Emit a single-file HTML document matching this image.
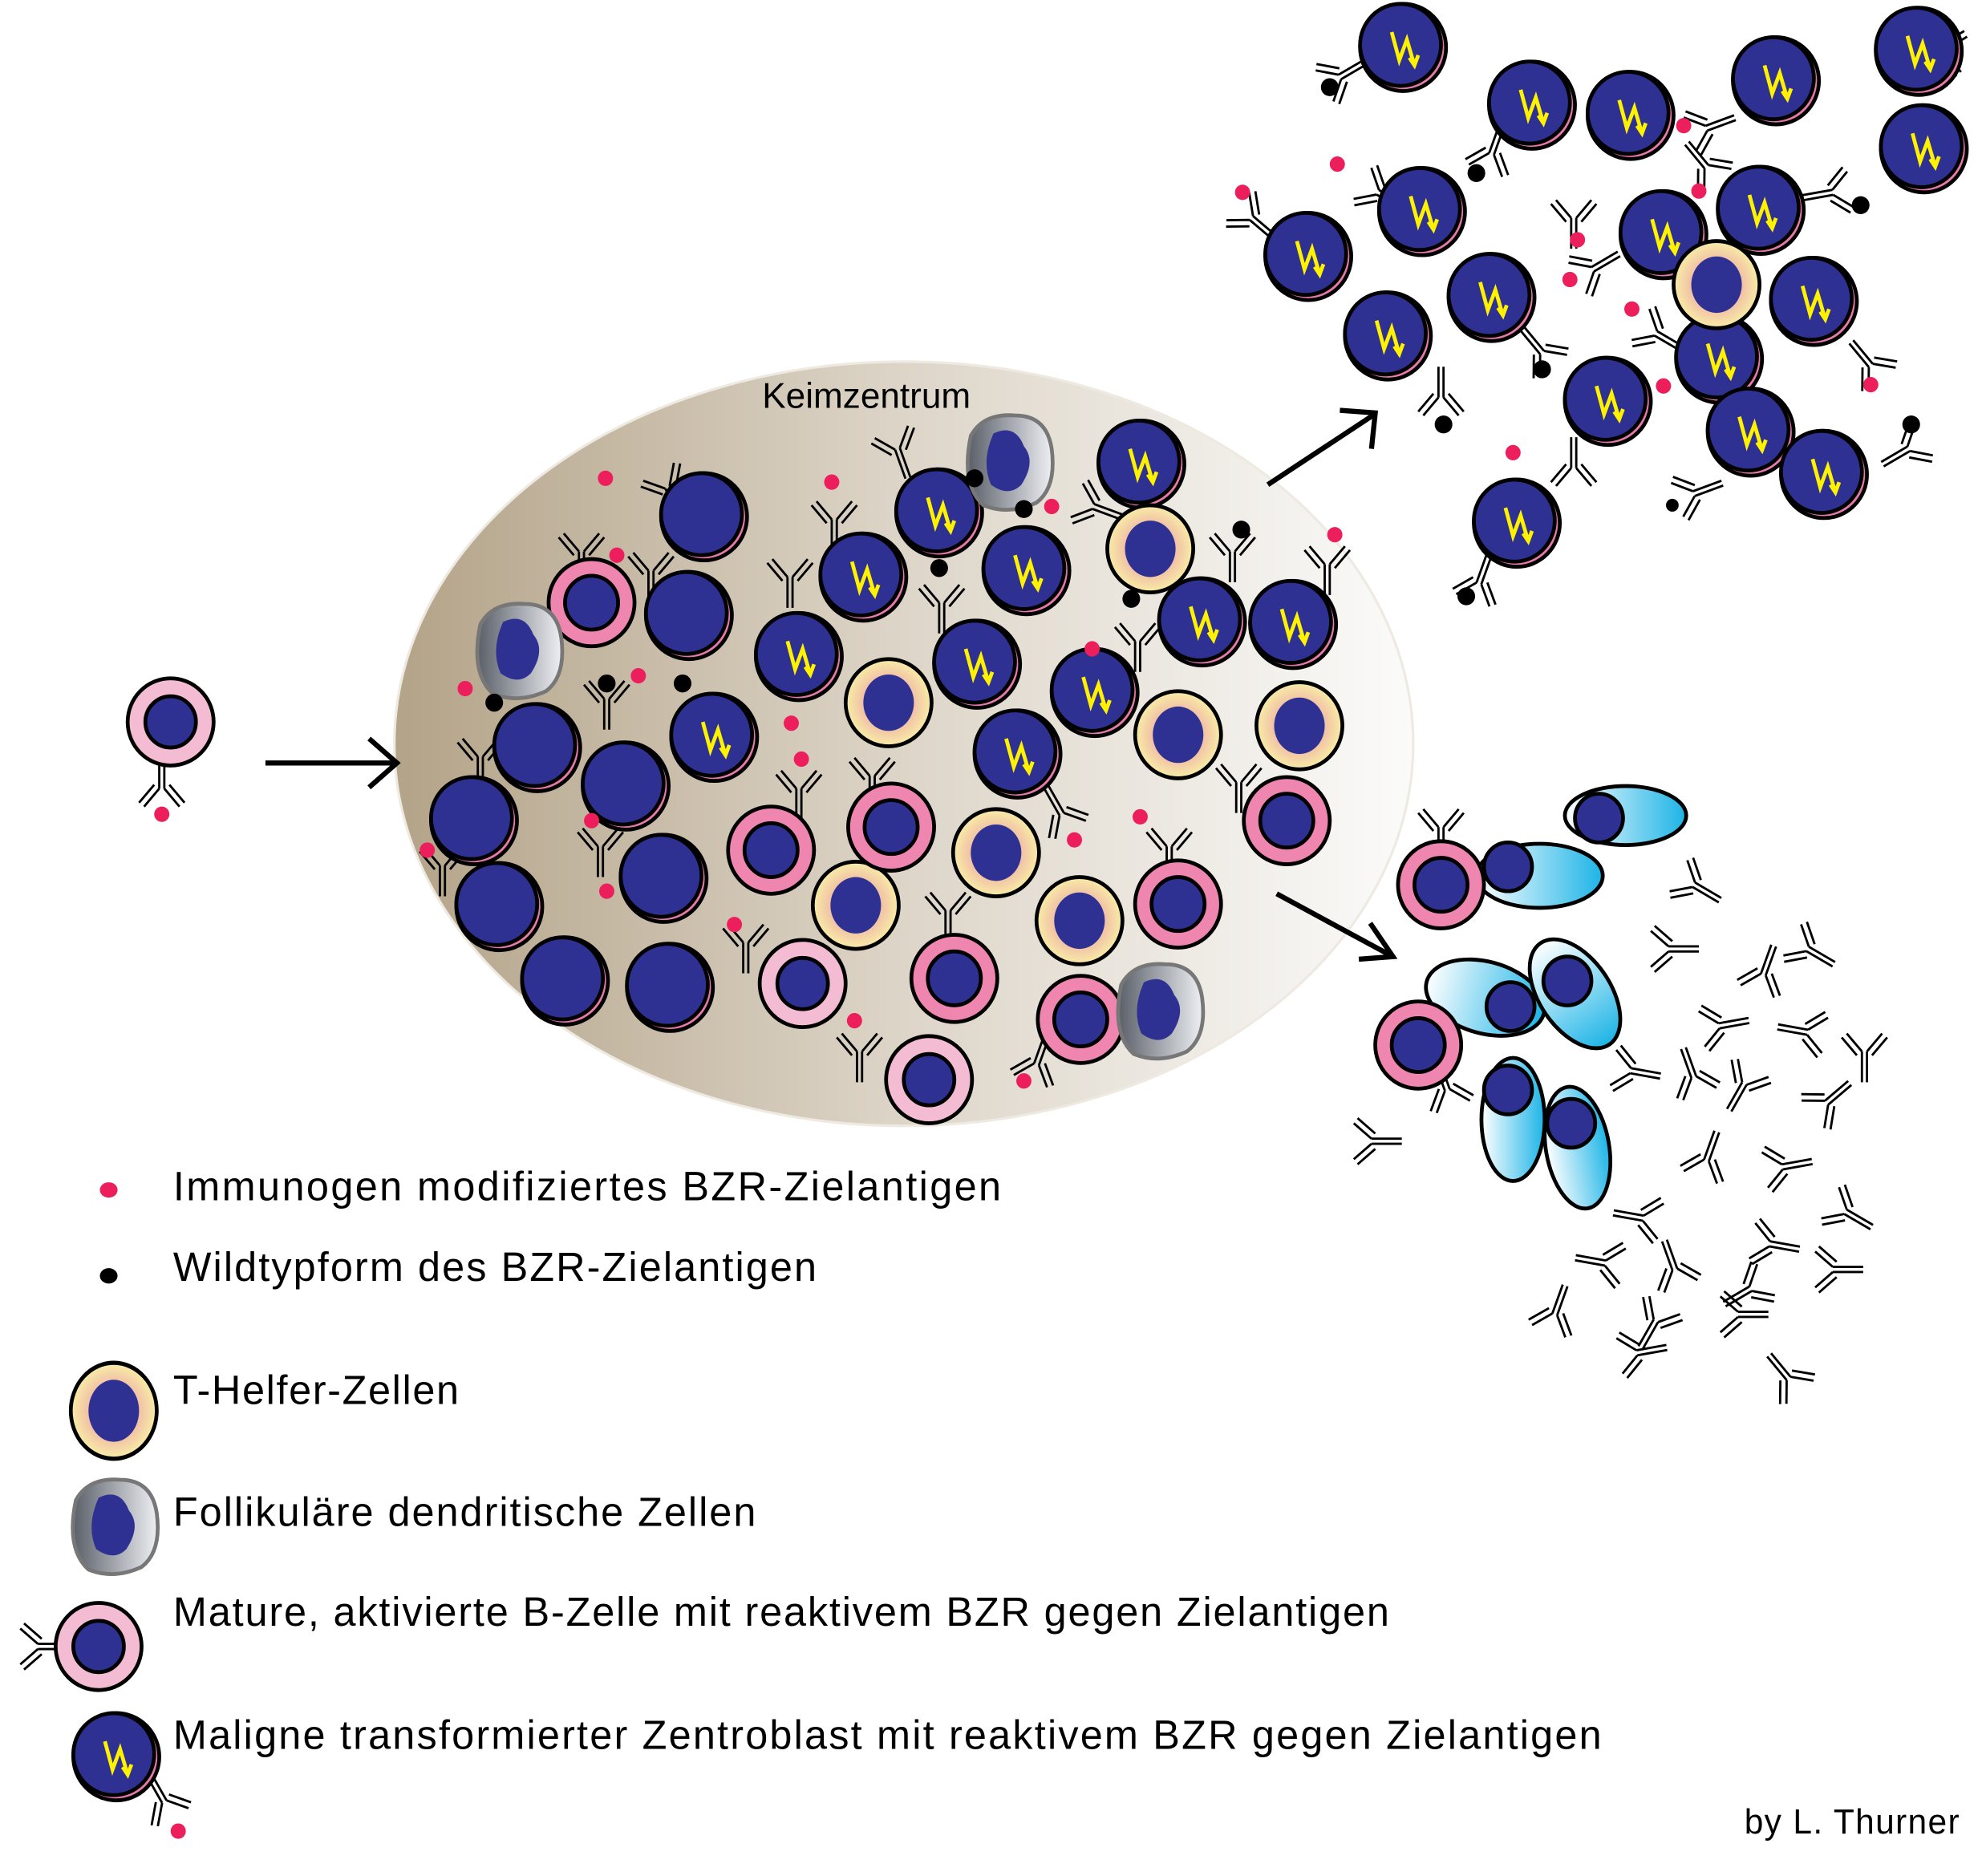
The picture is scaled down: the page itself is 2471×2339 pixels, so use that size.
<!DOCTYPE html>
<html><head><meta charset="utf-8"><style>html,body{margin:0;padding:0;background:#fff}svg{display:block}</style></head>
<body>
<svg width="2471" height="2339" viewBox="0 0 1568 1463" preserveAspectRatio="none" xmlns="http://www.w3.org/2000/svg" font-family="Liberation Sans, sans-serif">
<defs>
<linearGradient id="gc" x1="0" x2="1" y1="0" y2="0"><stop offset="0" stop-color="#b3a388"/><stop offset="0.5" stop-color="#ddd5c8"/><stop offset="1" stop-color="#fbfbfa"/></linearGradient>
<radialGradient id="th"><stop offset="0.5" stop-color="#f0b7a6"/><stop offset="1" stop-color="#f8eda6"/></radialGradient>
<linearGradient id="fdc" x1="0" x2="1"><stop offset="0" stop-color="#5a5f68"/><stop offset="1" stop-color="#eef0f4"/></linearGradient>
<linearGradient id="pl" x1="0" x2="1"><stop offset="0" stop-color="#ffffff"/><stop offset="1" stop-color="#1cb4e6"/></linearGradient>
<symbol id="cb" viewBox="-40 -40 80 80" overflow="visible">
<circle r="34" fill="#e77aa8" stroke="#000" stroke-width="3"/>
<circle cx="-2" cy="-2" r="32" fill="#2e3192" stroke="#000" stroke-width="3"/>
<path d="M-9 -12 L-3 10 L3 -6 L9 14 M5 8 L9 14 L12 6" fill="none" stroke="#fff200" stroke-width="3"/>
</symbol>
<symbol id="cd" viewBox="-40 -40 80 80" overflow="visible">
<circle r="34" fill="#e77aa8" stroke="#000" stroke-width="3"/>
<circle cx="-2" cy="-2" r="32" fill="#2e3192" stroke="#000" stroke-width="3"/>
</symbol>
<symbol id="th1" viewBox="-40 -40 80 80" overflow="visible">
<circle r="34" fill="url(#th)" stroke="#000" stroke-width="3"/>
<ellipse rx="20" ry="22" fill="#2e3192"/>
</symbol>
<symbol id="mb" viewBox="-40 -40 80 80" overflow="visible">
<circle r="34" fill="#ee86b0" stroke="#000" stroke-width="3"/>
<circle r="21" fill="#2e3192" stroke="#000" stroke-width="3"/>
</symbol>
<symbol id="mbl" viewBox="-40 -40 80 80" overflow="visible">
<circle r="34" fill="#f4bcd2" stroke="#000" stroke-width="3"/>
<circle r="20" fill="#2e3192" stroke="#000" stroke-width="3"/>
</symbol>
<symbol id="fd" viewBox="-40 -40 80 80" overflow="visible">
<path d="M-30 -20 Q-20 -38 5 -36 Q30 -36 34 -10 Q38 20 22 32 Q0 42 -20 34 Q-38 18 -30 -20Z" fill="url(#fdc)" stroke="#777" stroke-width="3"/>
<path d="M-12 -22 Q5 -30 12 -12 Q22 0 10 18 Q0 28 -14 18 Q-22 0 -12 -22Z" fill="#2e3192"/>
</symbol>
<symbol id="ab" viewBox="-20 -20 40 40" overflow="visible">
<path d="M-2 24 V0 M2 24 V0 M-2 0 L-14 -14 M2 0 L14 -14 M-6 3 L-18 -11 M6 3 L18 -11" fill="none" stroke="#000" stroke-width="1.8"/>
</symbol>
</defs>
<rect width="1568" height="1463" fill="#fff"/>
<ellipse cx="715" cy="580" rx="403" ry="298" fill="url(#gc)" stroke="#eeeae2" stroke-width="2"/>
<text x="603" y="318" font-size="28">Keimzentrum</text>

<g stroke="#000" stroke-width="4" fill="none">
<path d="M210 595 H312 M292 576 L314 595 L292 614"/>
<path d="M1003 378 L1086 324 M1060 320 L1088 322 L1085 350"/>
<path d="M1010 697 L1100 745 M1084 720 L1102 746 L1075 748"/>
</g>

<g>
<use href="#ab" x="508" y="360" width="40" height="40" transform="rotate(-30 528 380)"/>
<use href="#ab" x="440" y="410" width="40" height="40"/>
<use href="#ab" x="495" y="425" width="40" height="40"/>
<use href="#ab" x="690" y="330" width="40" height="40" transform="rotate(-20 710 350)"/>
<use href="#ab" x="640" y="385" width="40" height="40"/>
<use href="#ab" x="605" y="430" width="40" height="40"/>
<use href="#ab" x="725" y="450" width="40" height="40"/>
<use href="#ab" x="360" y="570" width="40" height="40"/>
<use href="#ab" x="460" y="525" width="40" height="40"/>
<use href="#ab" x="455" y="640" width="40" height="40"/>
<use href="#ab" x="330" y="655" width="40" height="40"/>
<use href="#ab" x="570" y="715" width="40" height="40"/>
<use href="#ab" x="670" y="585" width="40" height="40"/>
<use href="#ab" x="730" y="690" width="40" height="40"/>
<use href="#ab" x="820" y="615" width="40" height="40" transform="rotate(150 840 635)"/>
<use href="#ab" x="960" y="590" width="40" height="40"/>
<use href="#ab" x="905" y="640" width="40" height="40"/>
<use href="#ab" x="800" y="810" width="40" height="40" transform="rotate(200 820 830)"/>
<use href="#ab" x="845" y="375" width="40" height="40" transform="rotate(-70 865 395)"/>
<use href="#ab" x="955" y="410" width="40" height="40"/>
<use href="#ab" x="1030" y="420" width="40" height="40"/>
<use href="#ab" x="880" y="480" width="40" height="40"/>
<use href="#ab" x="660" y="800" width="40" height="40"/>
<use href="#ab" x="612" y="595" width="40" height="40"/>
</g>

<g>
<use href="#cd" x="517" y="363" width="80" height="80"/>
<use href="#mb" x="428" y="430" width="80" height="80"/>
<use href="#cd" x="505" y="440" width="80" height="80"/>
<use href="#cd" x="385" y="543" width="80" height="80"/>
<use href="#cd" x="455" y="573" width="80" height="80"/>
<use href="#cd" x="335" y="600" width="80" height="80"/>
<use href="#cd" x="355" y="667" width="80" height="80"/>
<use href="#cd" x="485" y="645" width="80" height="80"/>
<use href="#cd" x="407" y="725" width="80" height="80"/>
<use href="#cd" x="490" y="730" width="80" height="80"/>
<use href="#cb" x="703" y="360" width="80" height="80"/>
<use href="#cb" x="863" y="322" width="80" height="80"/>
<use href="#cb" x="643" y="410" width="80" height="80"/>
<use href="#cb" x="772" y="405" width="80" height="80"/>
<use href="#cb" x="592" y="472" width="80" height="80"/>
<use href="#cb" x="733" y="478" width="80" height="80"/>
<use href="#cb" x="911" y="445" width="80" height="80"/>
<use href="#cb" x="983" y="447" width="80" height="80"/>
<use href="#cb" x="525" y="535" width="80" height="80"/>
<use href="#cb" x="826" y="500" width="80" height="80"/>
<use href="#cb" x="765" y="548" width="80" height="80"/>
<use href="#th1" x="870" y="388" width="80" height="80"/>
<use href="#th1" x="663" y="508" width="80" height="80"/>
<use href="#th1" x="892" y="533" width="80" height="80"/>
<use href="#th1" x="988" y="526" width="80" height="80"/>
<use href="#th1" x="748" y="625" width="80" height="80"/>
<use href="#th1" x="637" y="666" width="80" height="80"/>
<use href="#th1" x="814" y="678" width="80" height="80"/>
<use href="#mb" x="570" y="623" width="80" height="80"/>
<use href="#mb" x="978" y="600" width="80" height="80"/>
<use href="#mb" x="665" y="605" width="80" height="80"/>
<use href="#mbl" x="595" y="727" width="80" height="80"/>
<use href="#mb" x="715" y="723" width="80" height="80"/>
<use href="#mb" x="892" y="665" width="80" height="80"/>
<use href="#mbl" x="695" y="802" width="80" height="80"/>
<use href="#mb" x="815" y="755" width="80" height="80"/>
<use href="#fd" x="370" y="467" width="80" height="80"/>
<use href="#fd" x="758" y="320" width="80" height="80"/>
<use href="#fd" x="877" y="748" width="80" height="80"/>
</g>
<g fill="#ec1e5c">
<circle cx="479" cy="373" r="6"/><circle cx="658" cy="376" r="6"/><circle cx="488" cy="433" r="6"/><circle cx="832" cy="395" r="6"/><circle cx="1056" cy="417" r="6"/><circle cx="368" cy="537" r="6"/><circle cx="505" cy="527" r="6"/><circle cx="626" cy="564" r="6"/><circle cx="864" cy="506" r="6"/><circle cx="634" cy="592" r="6"/><circle cx="468" cy="640" r="6"/><circle cx="338" cy="663" r="6"/><circle cx="480" cy="695" r="6"/><circle cx="581" cy="721" r="6"/><circle cx="850" cy="655" r="6"/><circle cx="902" cy="637" r="6"/><circle cx="676" cy="796" r="6"/><circle cx="810" cy="843" r="6"/>
</g>
<g fill="#000">
<circle cx="391" cy="548" r="7"/><circle cx="480" cy="533" r="7"/><circle cx="540" cy="533" r="7"/><circle cx="771" cy="373" r="7"/><circle cx="810" cy="397" r="7"/><circle cx="743" cy="443" r="7"/><circle cx="982" cy="413" r="7"/><circle cx="895" cy="467" r="7"/>
</g>

<use href="#ab" x="108" y="595" width="40" height="40" transform="rotate(180 128 615)"/>
<use href="#mbl" x="95" y="523" width="80" height="80"/>
<circle cx="128" cy="635" r="6" fill="#ec1e5c"/>

<g>
<use href="#ab" x="1040" y="40" width="40" height="40" transform="rotate(-120 1060 60)"/>
<use href="#ab" x="1160" y="100" width="40" height="40" transform="rotate(200 1180 120)"/>
<use href="#ab" x="1330" y="80" width="40" height="40" transform="rotate(-110 1350 100)"/>
<use href="#ab" x="1520" y="20" width="40" height="40" transform="rotate(100 1540 40)"/>
<use href="#ab" x="1070" y="130" width="40" height="40" transform="rotate(-60 1090 150)"/>
<use href="#ab" x="970" y="150" width="40" height="40" transform="rotate(-50 990 170)"/>
<use href="#ab" x="1225" y="150" width="40" height="40"/>
<use href="#ab" x="1430" y="130" width="40" height="40" transform="rotate(80 1450 150)"/>
<use href="#ab" x="1200" y="255" width="40" height="40" transform="rotate(140 1220 275)"/>
<use href="#ab" x="1120" y="290" width="40" height="40" transform="rotate(180 1140 310)"/>
<use href="#ab" x="1460" y="265" width="40" height="40" transform="rotate(140 1480 285)"/>
<use href="#ab" x="1290" y="240" width="40" height="40" transform="rotate(-60 1310 260)"/>
<use href="#ab" x="1225" y="345" width="40" height="40" transform="rotate(180 1245 365)"/>
<use href="#ab" x="1490" y="330" width="40" height="40" transform="rotate(60 1510 350)"/>
<use href="#ab" x="1320" y="365" width="40" height="40" transform="rotate(-110 1340 385)"/>
<use href="#ab" x="1150" y="435" width="40" height="40" transform="rotate(200 1170 455)"/>
<use href="#ab" x="1240" y="190" width="40" height="40" transform="rotate(-120 1260 210)"/>
<use href="#ab" x="1330" y="110" width="40" height="40" transform="rotate(140 1350 130)"/>
</g>
<g>
<use href="#cb" x="1070" y="-3" width="80" height="80"/>
<use href="#cb" x="1172" y="42" width="80" height="80"/>
<use href="#cb" x="1250" y="50" width="80" height="80"/>
<use href="#cb" x="1365" y="23" width="80" height="80"/>
<use href="#cb" x="1478" y="0" width="80" height="80"/>
<use href="#cb" x="1482" y="76" width="80" height="80"/>
<use href="#cb" x="1085" y="125" width="80" height="80"/>
<use href="#cb" x="995" y="160" width="80" height="80"/>
<use href="#cb" x="1140" y="192" width="80" height="80"/>
<use href="#cb" x="1058" y="222" width="80" height="80"/>
<use href="#cb" x="1276" y="143" width="80" height="80"/>
<use href="#cb" x="1353" y="124" width="80" height="80"/>
<use href="#cb" x="1395" y="195" width="80" height="80"/>
<use href="#cb" x="1320" y="240" width="80" height="80"/>
<use href="#cb" x="1232" y="273" width="80" height="80"/>
<use href="#cb" x="1345" y="297" width="80" height="80"/>
<use href="#cb" x="1403" y="330" width="80" height="80"/>
<use href="#cb" x="1160" y="368" width="80" height="80"/>
<use href="#th1" x="1318" y="182" width="80" height="80"/>
</g>
<g fill="#ec1e5c">
<circle cx="1058" cy="128" r="6"/><circle cx="983" cy="150" r="6"/><circle cx="1332" cy="98" r="6"/><circle cx="1344" cy="149" r="6"/><circle cx="1248" cy="187" r="6"/><circle cx="1242" cy="218" r="6"/><circle cx="1291" cy="241" r="6"/><circle cx="1316" cy="301" r="6"/><circle cx="1480" cy="300" r="6"/><circle cx="1197" cy="353" r="6"/>
</g>
<g fill="#000">
<circle cx="1052" cy="68" r="7"/><circle cx="1168" cy="135" r="7"/><circle cx="1472" cy="160" r="7"/><circle cx="1220" cy="288" r="7"/><circle cx="1142" cy="331" r="7"/><circle cx="1512" cy="331" r="7"/><circle cx="1323" cy="394" r="5"/><circle cx="1160" cy="465" r="7"/>
</g>

<g>
<use href="#ab" x="1120" y="625" width="40" height="40"/>
<use href="#ab" x="1125" y="830" width="40" height="40" transform="rotate(160 1145 850)"/>
</g>
<g stroke="#000" stroke-width="3">
<ellipse cx="1218" cy="683" rx="50" ry="25" fill="url(#pl)"/>
<ellipse cx="1286" cy="636" rx="48" ry="23" fill="url(#pl)"/>
<ellipse cx="1175" cy="778" rx="48" ry="28" fill="url(#pl)" transform="rotate(15 1175 778)"/>
<ellipse cx="1246" cy="775" rx="48" ry="28" fill="url(#pl)" transform="rotate(55 1246 775)"/>
<ellipse cx="1197" cy="873" rx="25" ry="48" fill="url(#pl)"/>
<ellipse cx="1248" cy="895" rx="25" ry="48" fill="url(#pl)" transform="rotate(-10 1248 895)"/>
</g>
<g fill="#2e3192" stroke="#000" stroke-width="3">
<circle cx="1193" cy="676" r="19"/><circle cx="1265" cy="638" r="19"/><circle cx="1195" cy="785" r="19"/><circle cx="1240" cy="765" r="19"/><circle cx="1193" cy="850" r="19"/><circle cx="1243" cy="876" r="19"/>
</g>
<use href="#mb" x="1100" y="650" width="80" height="80"/>
<use href="#mb" x="1082" y="775" width="80" height="80"/>
<g>
<use href="#ab" x="1320" y="670" width="40" height="40" transform="rotate(-60 1340 690)"/>
<use href="#ab" x="1300" y="720" width="40" height="40" transform="rotate(-90 1320 740)"/>
<use href="#ab" x="1410" y="720" width="40" height="40" transform="rotate(-60 1430 740)"/>
<use href="#ab" x="1375" y="740" width="40" height="40" transform="rotate(200 1395 760)"/>
<use href="#ab" x="1340" y="780" width="40" height="40" transform="rotate(-100 1360 800)"/>
<use href="#ab" x="1410" y="785" width="40" height="40" transform="rotate(100 1430 805)"/>
<use href="#ab" x="1455" y="800" width="40" height="40"/>
<use href="#ab" x="1270" y="815" width="40" height="40" transform="rotate(-80 1290 835)"/>
<use href="#ab" x="1320" y="820" width="40" height="40" transform="rotate(160 1340 840)"/>
<use href="#ab" x="1360" y="825" width="40" height="40" transform="rotate(30 1380 845)"/>
<use href="#ab" x="1425" y="840" width="40" height="40" transform="rotate(-130 1445 860)"/>
<use href="#ab" x="1065" y="870" width="40" height="40" transform="rotate(-90 1085 890)"/>
<use href="#ab" x="1330" y="885" width="40" height="40" transform="rotate(200 1350 905)"/>
<use href="#ab" x="1390" y="890" width="40" height="40" transform="rotate(-100 1410 910)"/>
<use href="#ab" x="1440" y="925" width="40" height="40" transform="rotate(-60 1460 945)"/>
<use href="#ab" x="1280" y="930" width="40" height="40" transform="rotate(100 1300 950)"/>
<use href="#ab" x="1380" y="950" width="40" height="40" transform="rotate(-80 1400 970)"/>
<use href="#ab" x="1250" y="965" width="40" height="40" transform="rotate(100 1270 985)"/>
<use href="#ab" x="1305" y="970" width="40" height="40" transform="rotate(160 1325 990)"/>
<use href="#ab" x="1430" y="970" width="40" height="40" transform="rotate(-90 1450 990)"/>
<use href="#ab" x="1365" y="985" width="40" height="40" transform="rotate(60 1385 1005)"/>
<use href="#ab" x="1210" y="1005" width="40" height="40" transform="rotate(200 1230 1025)"/>
<use href="#ab" x="1290" y="1010" width="40" height="40" transform="rotate(30 1310 1030)"/>
<use href="#ab" x="1355" y="1005" width="40" height="40" transform="rotate(-90 1375 1025)"/>
<use href="#ab" x="1275" y="1035" width="40" height="40" transform="rotate(-100 1295 1055)"/>
<use href="#ab" x="1395" y="1055" width="40" height="40" transform="rotate(140 1415 1075)"/>
</g>

<ellipse cx="86" cy="928" rx="7" ry="6" fill="#ec1e5c"/>
<ellipse cx="86" cy="995" rx="7" ry="6" fill="#000"/>
<use href="#th1" x="50" y="1060" width="80" height="80" transform="translate(90 1098) scale(1 1.1) translate(-90 -1098)"/>
<use href="#fd" x="50" y="1150" width="80" height="80"/>
<use href="#ab" x="10" y="1264" width="40" height="40" transform="rotate(-90 30 1284)"/>
<use href="#mbl" x="38" y="1244" width="80" height="80"/>
<use href="#ab" x="110" y="1385" width="40" height="40" transform="rotate(150 130 1405)"/>
<use href="#cb" x="52" y="1330" width="80" height="80"/>
<circle cx="141" cy="1428" r="6" fill="#ec1e5c"/>
<g font-size="32" fill="#000">
<text x="137" y="936" textLength="655">Immunogen modifiziertes BZR-Zielantigen</text>
<text x="137" y="999" textLength="509">Wildtypform des BZR-Zielantigen</text>
<text x="137" y="1095" textLength="226">T-Helfer-Zellen</text>
<text x="137" y="1190" textLength="461">Follikuläre dendritische Zellen</text>
<text x="137" y="1268" textLength="962">Mature, aktivierte B-Zelle mit reaktivem BZR gegen Zielantigen</text>
<text x="137" y="1364" textLength="1130">Maligne transformierter Zentroblast mit reaktivem BZR gegen Zielantigen</text>
</g>
<text x="1380" y="1430" font-size="27" textLength="170">by L. Thurner</text>
</svg>
</body></html>
